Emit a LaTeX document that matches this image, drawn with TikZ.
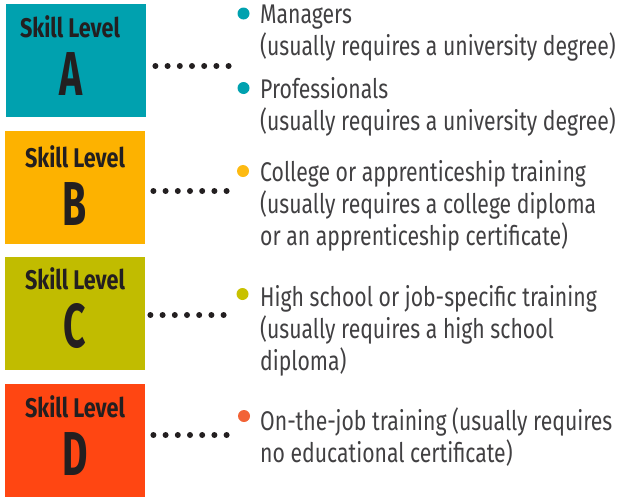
\documentclass[tikz,border=0pt]{standalone}
\usepackage{fontspec}
\setmainfont{Fira Sans}
\newfontfamily\itemfont[FakeStretch=0.785]{Fira Sans}
\newfontfamily\levelfont[FakeStretch=0.8]{Fira Sans}
\newfontfamily\letterfont[FakeStretch=0.63]{Fira Sans}
\usetikzlibrary{positioning}
\usetikzlibrary{calc}
\definecolor{levA}{HTML}{00A1AF}
\definecolor{levB}{HTML}{FDB200}
\definecolor{levC}{HTML}{C1BC00}
\definecolor{levD}{HTML}{FF4612}
\definecolor{bulB}{HTML}{FDBA12}
\definecolor{bulC}{HTML}{C8C100}
\definecolor{bulD}{HTML}{F26336}
\definecolor{inkblack}{HTML}{231F20}
\definecolor{textgray}{HTML}{414042}
\tikzset{
	% coloured level boxes
	levelbox/.style={fill=#1,draw=none,anchor=north west,inner sep=0pt,minimum width=140pt,minimum height=113pt},
	leveltitle/.style={anchor=base,inner sep=0pt,text=inkblack,font=\levelfont\bfseries\fontsize{27}{30}\selectfont},
	levelletter/.style={anchor=base,inner sep=0pt,text=inkblack,font=\letterfont\bfseries\fontsize{62}{70}\selectfont},
	% dotted connectors
	dotline/.style={draw=inkblack,line width=6pt,line cap=round,dash pattern=on 0pt off 12.2pt},
	% bullets and item texts
	bulletdot/.style={circle,fill=#1,draw=none,inner sep=0pt,minimum size=12pt},
	itemtext/.style={anchor=north west,inner sep=0pt,align=left,text=textgray,
		font=\itemfont\fontsize{27}{32}\selectfont,execute at begin node=\strut},
}
\begin{document}
\begin{tikzpicture}[x=1pt,y=-1pt]
\useasboundingbox (0,0) rectangle (620,498);
% the four boxes
\node[levelbox=levA] (boxA) at (6,4) {};
\node[levelbox=levB] (boxB) at (5,131) {};
\node[levelbox=levC] (boxC) at (5,257) {};
\node[levelbox=levD] (boxD) at (5,384) {};
% box labels
\node[leveltitle] (titleA) at (70,37) {Skill Level};
\node[levelletter] (letterA) at (71,95) {A};
\node[leveltitle] (titleB) at (75,167) {Skill Level};
\node[levelletter] (letterB) at (75,225) {B};
\node[leveltitle] (titleC) at (75,289) {Skill Level};
\node[levelletter] (letterC) at (75,347) {C};
\node[leveltitle] (titleD) at (75,417) {Skill Level};
\node[levelletter] (letterD) at (75,475) {D};
% ends of the dotted rows
\coordinate (endA) at (229.5,66);
\coordinate (endB) at (229.5,191);
\coordinate (endC) at (227.5,315);
\coordinate (endD) at (229.5,435);
\draw[dotline] ($(boxA.east |- endA)+(9,0)$) -- (endA);
\draw[dotline] ($(boxB.east |- endB)+(8,0)$) -- (endB);
\draw[dotline] ($(boxC.east |- endC)+(5,0)$) -- (endC);
\draw[dotline] ($(boxD.east |- endD)+(8,0)$) -- (endD);
% bullets
\node[bulletdot=levA] (bulA1) at (243.5,13.5) {};
\node[bulletdot=levA] (bulA2) at (243.5,88) {};
\node[bulletdot=bulB] (bulB) at (243,171) {};
\node[bulletdot=bulC] (bulC) at (242.5,294) {};
\node[bulletdot=bulD] (bulD) at (244,416) {};
% item texts
\node[itemtext] (itemA1) at (260,4.6) {Managers\\(usually requires a university degree)};
\node[itemtext] (itemA2) at (260,77.6) {Professionals\\(usually requires a university degree)};
\node[itemtext] (itemB) at (260,160.6) {College or apprenticeship training\\(usually requires a college diploma\\or an apprenticeship certificate)};
\node[itemtext] (itemC) at (260,285.6) {High school or job-specific training\\(usually requires a high school\\diploma)};
\node[itemtext] (itemD) at (260,407.6) {On-the-job training (usually requires\\no educational certificate)};
\end{tikzpicture}
\end{document}
